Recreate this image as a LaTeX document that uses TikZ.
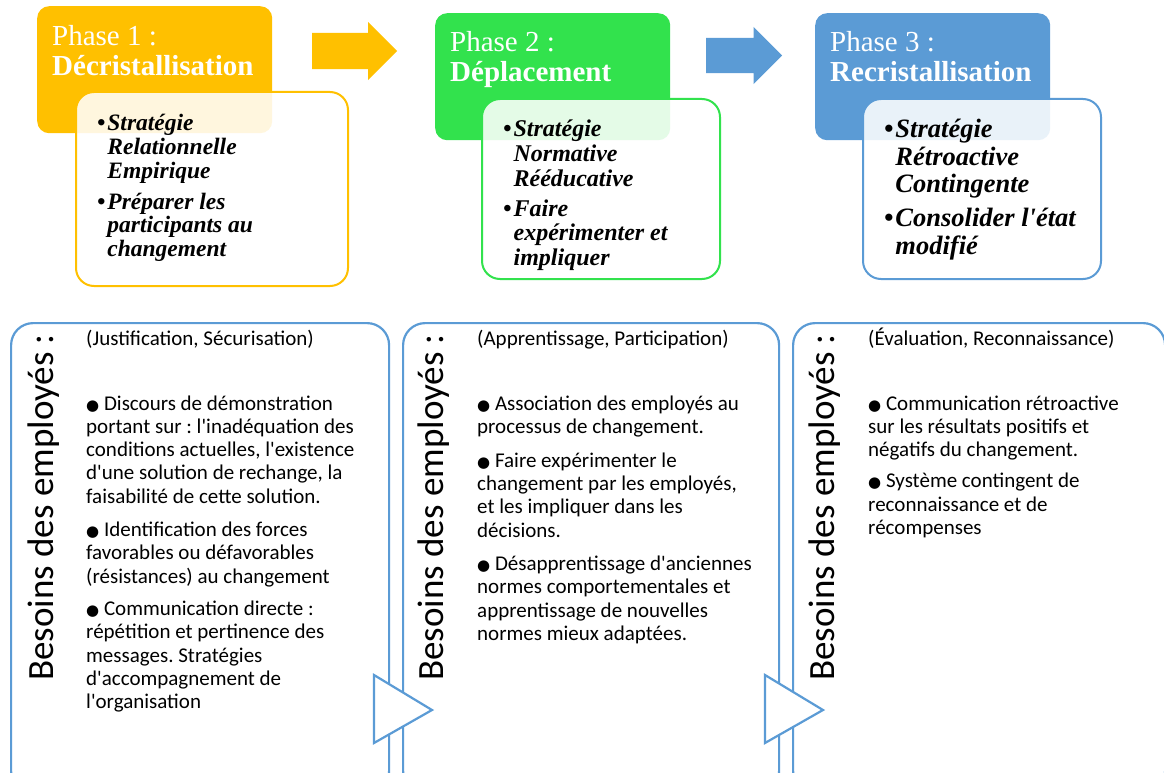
\documentclass[tikz,border=0pt]{standalone}
\usepackage{fontspec}
\setmainfont{Liberation Serif}
\newfontfamily\calib{Carlito}
\newfontfamily\dejavu{DejaVu Sans}
\usepackage{tikz}
\usetikzlibrary{shapes.arrows}
\definecolor{phaseorange}{RGB}{255,192,0}
\definecolor{phasegreen}{RGB}{50,226,77}
\definecolor{phaseblue}{RGB}{91,155,213}
\frenchspacing
\newcommand{\blt}{{\fontsize{15}{15}\dejavu ●}}
\newcommand{\ap}{\textquotesingle}
\newcommand{\linesblock}[1]{\begin{tabular}[t]{@{}l@{}}#1\end{tabular}}
\newcommand{\ptsblock}[1]{\begin{tabular}[t]{@{}l@{\hspace{2pt}}l@{}}#1\end{tabular}}

\begin{document}
\begin{tikzpicture}[x=1pt,y=-1pt,
  phase/.style={rectangle, rounded corners=12pt, anchor=north west, inner sep=0pt,
    minimum width=235pt, minimum height=127pt},
  inbox/.style={rectangle, rounded corners=18pt, draw, line width=2pt, fill=white,
    fill opacity=0.87, anchor=north west, inner sep=0pt, minimum height=180pt},
  ttl/.style={anchor=base west, inner sep=0pt, text=white,
    font=\fontsize{29}{29.5}\selectfont},
  pts/.style={anchor=base west, inner sep=0pt},
  blockarrow/.style={single arrow, anchor=tail, inner sep=0pt, text height=36pt,
    text depth=0pt, single arrow tip angle=90},
  need/.style={rectangle, draw=phaseblue, line width=2.2pt, rounded corners=22pt,
    anchor=north west, inner sep=0pt, minimum height=470pt},
  needtxt/.style={anchor=base west, inner sep=0pt,
    font=\calib\fontsize{21}{23.3}\selectfont},
  vlabel/.style={anchor=base west, rotate=90, inner sep=0pt,
    font=\calib\fontsize{37}{40}\selectfont},
  arrowtri/.style={draw=phaseblue, fill=white, line width=2.2pt, line join=miter}]
  \useasboundingbox (0,0) rectangle (1164,773);
  \clip (0,0) rectangle (1164,773);

  % phases
  \node[phase, fill=phaseorange] (P1) at (37,6) {};
  \node[phase, fill=phasegreen] (P2) at (435,13) {};
  \node[phase, fill=phaseblue] (P3) at (815,13) {};

  \node[ttl] (T1) at (52,46) {\linesblock{Phase 1 :\\\textbf{Décristallisation}}};
  \node[ttl] (T2) at (450,52) {\linesblock{Phase 2 :\\\textbf{Déplacement}}};
  \node[ttl] (T3) at (830,52) {\linesblock{Phase 3 :\\\textbf{Recristallisation}}};

  \node[blockarrow, fill=phaseorange, minimum height=85pt,
    single arrow head extend=11pt] (A12) at (312,51) {};
  \node[blockarrow, fill=phaseblue, minimum height=76pt, text height=35pt,
    single arrow head extend=11pt] (A23) at (706,55.5) {};

  % strategies
  \node[inbox, draw=phaseorange, minimum width=272pt, minimum height=194pt] (I1) at (75,91) {};
  \node[inbox, draw=phasegreen, minimum width=238pt] (I2) at (481,98) {};
  \node[inbox, draw=phaseblue, minimum width=238pt] (I3) at (862,98) {};

  \node[pts, font=\fontsize{23.5}{24}\selectfont\bfseries\itshape] (S1) at (97,131)
    {\ptsblock{\textbullet & Stratégie\\ & Relationnelle\\ & Empirique\\[6pt]
      \textbullet & Préparer les\\ & participants au\\ & changement}};
  \node[pts, font=\fontsize{24}{24.7}\selectfont\bfseries\itshape] (S2) at (503,137)
    {\ptsblock{\textbullet & Stratégie\\ & Normative\\ & Rééducative\\[5pt]
      \textbullet & Faire\\ & expérimenter et\\ & impliquer}};
  \node[pts, font=\fontsize{26.5}{27.5}\selectfont\bfseries\itshape] (S3) at (884,138)
    {\ptsblock{\textbullet & Stratégie\\ & Rétroactive\\ & Contingente\\[6pt]
      \textbullet & Consolider l\ap état\\ & modifié}};

  % besoins
  \node[need, minimum width=378pt] (B1) at (10,322) {};
  \node[need, minimum width=376pt] (B2) at (402,322) {};
  \node[need, minimum width=372pt] (B3) at (792,322) {};

  \draw[arrowtri] (374,675) -- (432,710) -- (374,743) -- cycle;
  \draw[arrowtri] (765,675) -- (823,710) -- (765,743) -- cycle;

  \node[vlabel] (V1) at (53,681) {Besoins des employés :};
  \node[vlabel] (V2) at (443,681) {Besoins des employés :};
  \node[vlabel] (V3) at (834,681) {Besoins des employés :};

  \node[needtxt] (N1) at (86,345) {\linesblock{(Justification, Sécurisation)\\[41.7pt]
    \blt\ Discours de démonstration\\
    portant sur : l\ap inadéquation des\\
    conditions actuelles, l\ap existence\\
    d\ap une solution de rechange, la\\
    faisabilité de cette solution.\\[10pt]
    \blt\ Identification des forces\\
    favorables ou défavorables\\
    (résistances) au changement\\[9pt]
    \blt\ Communication directe :\\
    répétition et pertinence des\\
    messages. Stratégies\\
    d\ap accompagnement de\\
    l\ap organisation}};
  \node[needtxt] (N2) at (477,345) {\linesblock{(Apprentissage, Participation)\\[41.7pt]
    \blt\ Association des employés au\\
    processus de changement.\\[10.7pt]
    \blt\ Faire expérimenter le\\
    changement par les employés,\\
    et les impliquer dans les\\
    décisions.\\[10pt]
    \blt\ Désapprentissage d\ap anciennes\\
    normes comportementales et\\
    apprentissage de nouvelles\\
    normes mieux adaptées.}};
  \node[needtxt] (N3) at (868,345) {\linesblock{(Évaluation, Reconnaissance)\\[41.7pt]
    \blt\ Communication rétroactive\\
    sur les résultats positifs et\\
    négatifs du changement.\\[8pt]
    \blt\ Système contingent de\\
    reconnaissance et de\\
    récompenses}};
\end{tikzpicture}
\end{document}
